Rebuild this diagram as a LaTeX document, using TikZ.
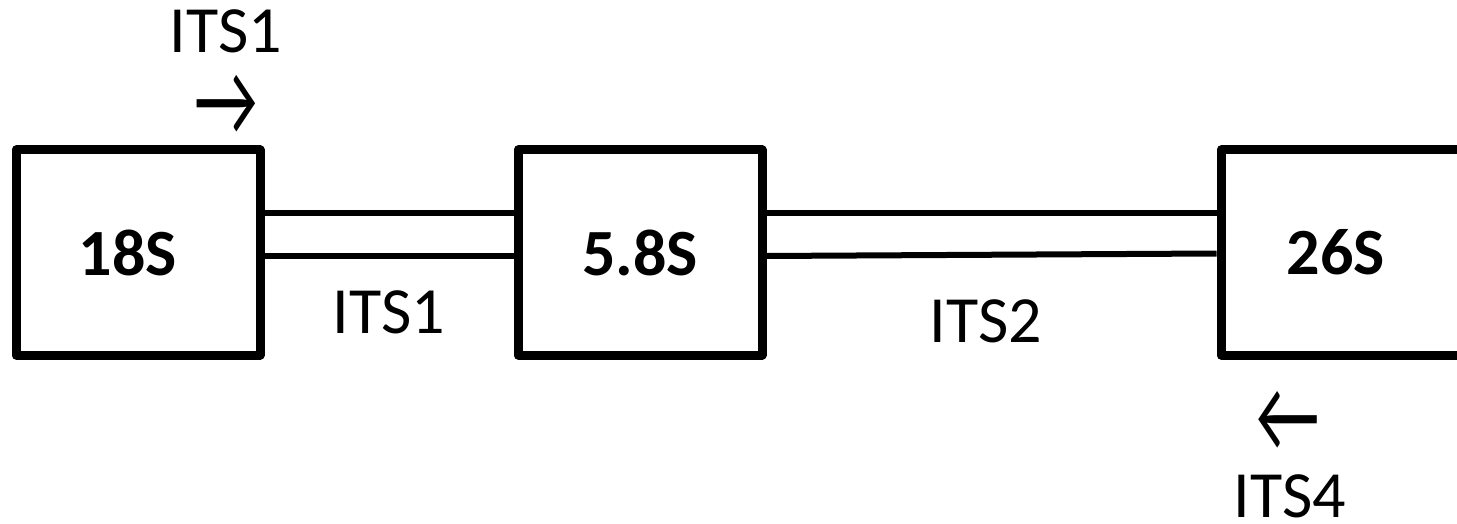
\documentclass[tikz,border=0pt]{standalone}
\usepackage{fontspec}
\setmainfont{Carlito}
\usetikzlibrary{positioning}

\begin{document}
\begin{tikzpicture}[
        x=1pt, y=1pt,
        genebox/.style={rectangle, draw=black, line width=9pt, line join=round, minimum width=244pt, minimum height=205pt, inner sep=0pt, font=\fontsize{66}{70}\selectfont\bfseries},
        strand/.style={draw=black, line width=6pt},
        lbl/.style={inner sep=0pt, font=\fontsize{66}{70}\selectfont},
        primer/.style={inner sep=0pt, font=\fontsize{70}{70}\selectfont},
    ]
        \useasboundingbox (0,0) rectangle (1457,523);
        \clip (0,0) rectangle (1457,523);

        % Gene boxes
        \node[genebox] (b18) at (138,270.5) {\hspace*{-20pt}18S};
        \node[genebox] (b58) at (640,270.5) {5.8S};
        \node[genebox] (b26) at (1343,270.5) {\hspace*{-14pt}26S};

        % Spacer strands
        \draw[strand] ([yshift=39.5pt]b18.east) -- ([yshift=39.5pt]b58.west);
        \draw[strand] ([yshift=-3.5pt]b18.east) -- ([yshift=-3.5pt]b58.west);
        \draw[strand] ([yshift=39.5pt]b58.east) -- ([yshift=39.5pt]b26.west);
        \draw[strand] ([yshift=-3.5pt]b58.east) -- ([yshift=-1pt]b26.west);

        % Spacer labels
        \node[lbl] (its1) at (389,211) {ITS1};
        \node[lbl] (its2) at (986,202) {ITS2};

        % Primers
        \node[primer] (fwd) at (226,418) {\scalebox{1}[1.5]{→}};
        \node[lbl] (fwdname) at (226,492) {ITS1};
        \node[primer] (rev) at (1288,102) {\scalebox{1}[1.5]{←}};
        \node[lbl] (revname) at (1290,27) {ITS4};
    \end{tikzpicture}
\end{document}
